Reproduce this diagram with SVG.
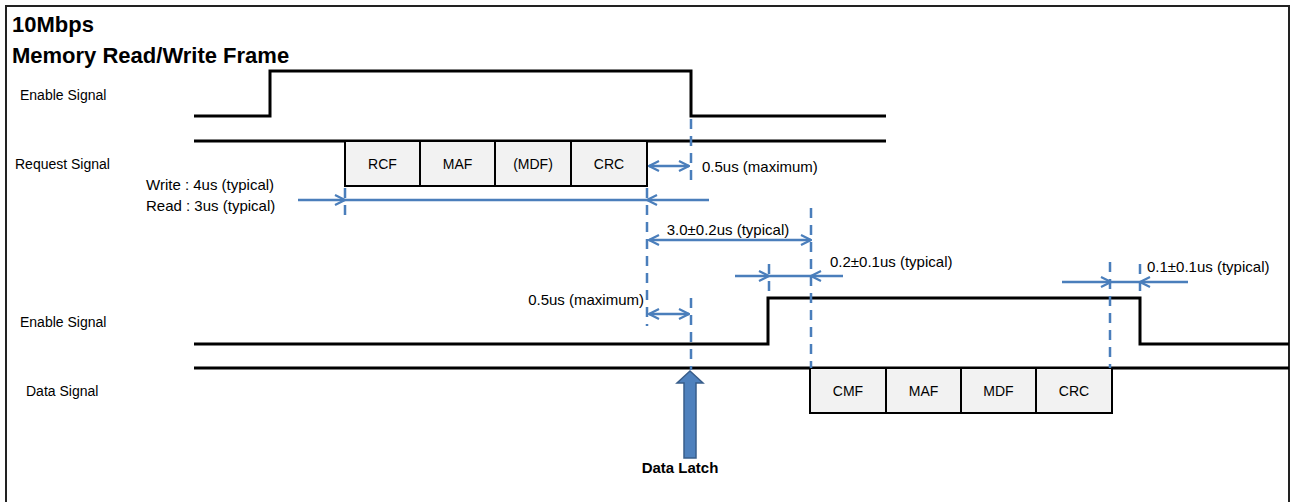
<svg xmlns="http://www.w3.org/2000/svg" width="1291" height="502" viewBox="0 0 1291 502">
<defs>
<marker id="ah" viewBox="0 0 12 12" refX="11" refY="6" markerWidth="12" markerHeight="12" markerUnits="userSpaceOnUse" orient="auto-start-reverse">
<path d="M1,1 L11,6 L1,11" fill="none" stroke="#4a7ebb" stroke-width="2.2"/>
</marker>
</defs>
<style>
.sig{fill:none;stroke:#000;stroke-width:3}
.box{fill:#f2f2f2;stroke:#000;stroke-width:2}
.dash{fill:none;stroke:#4a7ebb;stroke-width:2.5;stroke-dasharray:10,7}
.dim{fill:none;stroke:#4a7ebb;stroke-width:2.5}
.lbl{font-family:"Liberation Sans",Arial,sans-serif;font-size:14px;fill:#000}
.dl{font-family:"Liberation Sans",Arial,sans-serif;font-size:15px;fill:#000}
.bt{font-family:"Liberation Sans",Arial,sans-serif;font-size:14px;fill:#000;text-anchor:middle}
.title{font-family:"Liberation Sans",Arial,sans-serif;font-size:22px;font-weight:bold;fill:#000}
</style>
<rect width="1291" height="502" fill="#fff"/>
<path d="M6,502 V6 H1289 V502" fill="none" stroke="#222" stroke-width="2"/>
<text class="title" x="12" y="32">10Mbps</text>
<text class="title" x="12" y="63">Memory Read/Write Frame</text>

<g id="enable1">
<text class="lbl" x="20" y="100">Enable Signal</text>
<path class="sig" d="M194,116 H270 V71 H691 V116 H886"/>
</g>
<g id="request">
<text class="lbl" x="15" y="169">Request Signal</text>
<path class="sig" d="M194,141 H886"/>
<rect class="box" x="345" y="141" width="75" height="45"/>
<rect class="box" x="420" y="141" width="75" height="45"/>
<rect class="box" x="495" y="141" width="76" height="45"/>
<rect class="box" x="571" y="141" width="76" height="45"/>
<text class="bt" x="382.5" y="169">RCF</text>
<text class="bt" x="457.5" y="169">MAF</text>
<text class="bt" x="533" y="169">(MDF)</text>
<text class="bt" x="609" y="169">CRC</text>
</g>
<g id="enable2">
<text class="lbl" x="20" y="327">Enable Signal</text>
<path class="sig" d="M194,344 H768 V298 H1140 V344 H1289"/>
</g>
<g id="data">
<text class="lbl" x="26" y="396">Data Signal</text>
<path class="sig" d="M194,368 H1289"/>
<rect class="box" x="810" y="368" width="76" height="45"/>
<rect class="box" x="886" y="368" width="75" height="45"/>
<rect class="box" x="961" y="368" width="75" height="45"/>
<rect class="box" x="1036" y="368" width="76" height="45"/>
<text class="bt" x="848" y="396">CMF</text>
<text class="bt" x="923.5" y="396">MAF</text>
<text class="bt" x="998.5" y="396">MDF</text>
<text class="bt" x="1074" y="396">CRC</text>
</g>

<g id="connectors">
<path class="dash" d="M691,119 V186"/>
<path class="dash" d="M691,298 V370"/>
<path class="dash" d="M345,188 V218"/>
<path class="dash" d="M647,188 V326"/>
<path class="dash" d="M811,208 V368"/>
<path class="dash" d="M769,264 V298"/>
<path class="dash" d="M1110,262 V368"/>
<path class="dash" d="M1140,264 V298"/>

<path class="dim" d="M649,166 H689" marker-start="url(#ah)" marker-end="url(#ah)"/>
<path class="dim" d="M298,200 H345" marker-end="url(#ah)"/>
<path class="dim" d="M345,200 H647"/>
<path class="dim" d="M709,200 H647" marker-end="url(#ah)"/>
<path class="dim" d="M649,240 H811" marker-start="url(#ah)" marker-end="url(#ah)"/>
<path class="dim" d="M735,276 H769" marker-end="url(#ah)"/>
<path class="dim" d="M769,276 H811"/>
<path class="dim" d="M843,276 H811" marker-end="url(#ah)"/>
<path class="dim" d="M1062,282 H1111" marker-end="url(#ah)"/>
<path class="dim" d="M1111,282 H1140"/>
<path class="dim" d="M1188,282 H1140" marker-end="url(#ah)"/>
<path class="dim" d="M649,314 H689" marker-start="url(#ah)" marker-end="url(#ah)"/>

<path d="M690,371 L703,383 H696 V458 H684 V383 H677 Z" fill="#4f81bd" stroke="#385d8a" stroke-width="1.5"/>
</g>

<g id="labels">
<text class="dl" x="702" y="172">0.5us (maximum)</text>
<text class="dl" x="146" y="190">Write : 4us (typical)</text>
<text class="dl" x="146" y="211">Read : 3us (typical)</text>
<text class="dl" x="728" y="235" text-anchor="middle">3.0±0.2us (typical)</text>
<text class="dl" x="830" y="267">0.2±0.1us (typical)</text>
<text class="dl" x="1147" y="272">0.1±0.1us (typical)</text>
<text class="dl" x="644" y="305" text-anchor="end">0.5us (maximum)</text>
<text class="dl" x="680" y="473" text-anchor="middle" font-weight="bold">Data Latch</text>
</g>
</svg>
